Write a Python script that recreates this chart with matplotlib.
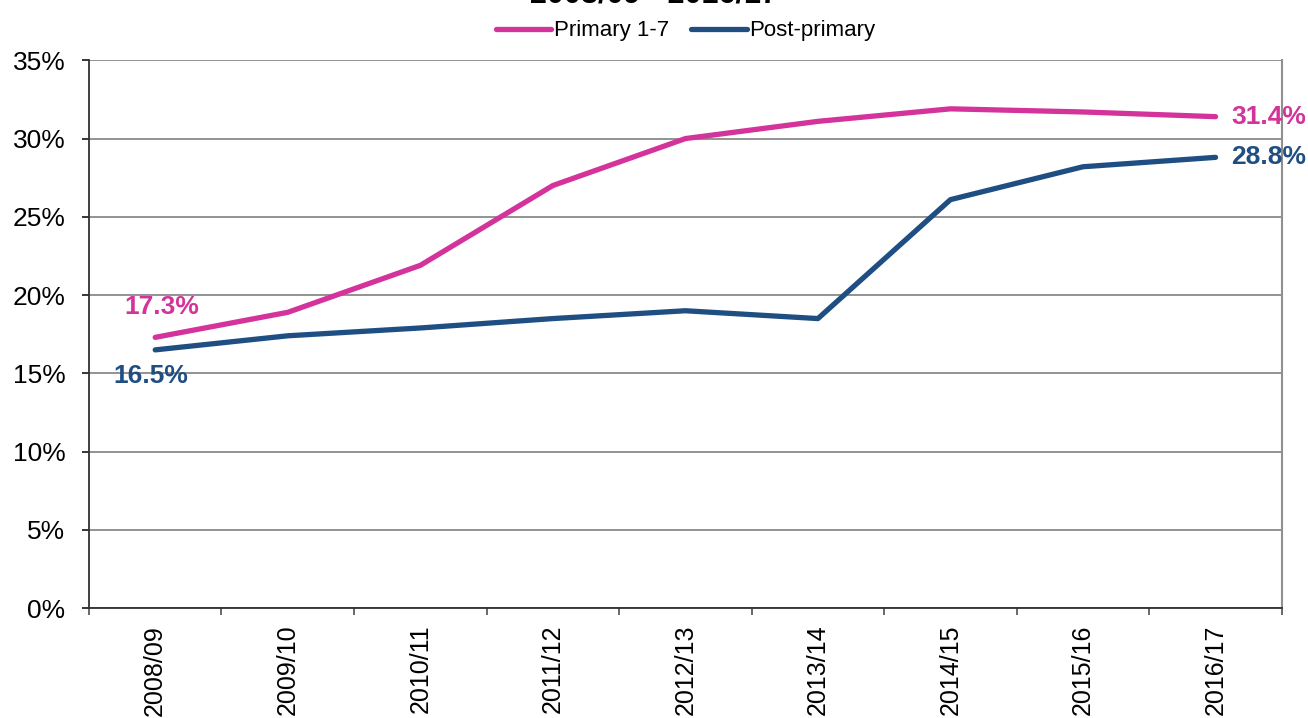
import matplotlib.pyplot as plt
from matplotlib.ticker import FuncFormatter, FixedLocator

plt.rcParams['font.family'] = ['Liberation Sans', 'DejaVu Sans']

years = ['2008/09', '2009/10', '2010/11', '2011/12', '2012/13',
         '2013/14', '2014/15', '2015/16', '2016/17']
primary = [17.3, 18.9, 21.9, 27.0, 30.0, 31.1, 31.9, 31.7, 31.4]
post_primary = [16.5, 17.4, 17.9, 18.5, 19.0, 18.5, 26.1, 28.2, 28.8]

pink = '#D3339A'
navy = '#1F4E82'

fig = plt.figure(figsize=(13.08, 7.18), dpi=100)
ax = fig.add_axes([0.068, 0.153, 0.912, 0.763])

x = list(range(len(years)))
ax.plot(x, primary, color=pink, lw=3.8, solid_capstyle='round', label='Primary 1-7', zorder=3)
ax.plot(x, post_primary, color=navy, lw=3.8, solid_capstyle='round', label='Post-primary', zorder=3)

ax.set_xlim(-0.5, len(years) - 0.5)
ax.set_ylim(0, 35)
ax.set_yticks(range(0, 36, 5))
ax.yaxis.set_major_formatter(FuncFormatter(lambda v, p: f'{v:.0f}%'))
ax.grid(axis='y', color='#808080', lw=1.2, zorder=0)

ax.set_xticks(x)
ax.set_xticklabels(years, rotation=90, fontsize=18)
ax.tick_params(axis='x', length=0, pad=12)
ax.xaxis.set_minor_locator(FixedLocator([i - 0.5 for i in range(len(years) + 1)]))
ax.tick_params(axis='x', which='minor', length=5, width=1.1, color='#404040')
ax.tick_params(axis='y', length=5, width=1.1, labelsize=19, pad=12)

ax.spines['top'].set_visible(False)
ax.spines['right'].set_color('#909090')
ax.spines['right'].set_linewidth(1.5)
ax.spines['left'].set_color('#303030')
ax.spines['bottom'].set_color('#303030')
ax.spines['left'].set_linewidth(1.3)
ax.spines['bottom'].set_linewidth(1.3)

# value labels at both ends
ax.annotate(f'{primary[0]}%', (x[0], primary[0]), xytext=(-22, 22), textcoords='offset points',
            color=pink, fontsize=19, fontweight='bold', va='center')
ax.annotate(f'{post_primary[0]}%', (x[0], post_primary[0]), xytext=(-30, -19), textcoords='offset points',
            color=navy, fontsize=19, fontweight='bold', va='center')
ax.annotate(f'{primary[-1]}%', (x[-1], primary[-1]), xytext=(11, 0), textcoords='offset points',
            color=pink, fontsize=19, fontweight='bold', va='center', annotation_clip=False)
ax.annotate(f'{post_primary[-1]}%', (x[-1], post_primary[-1]), xytext=(11, 0), textcoords='offset points',
            color=navy, fontsize=19, fontweight='bold', va='center', annotation_clip=False)

ax.legend(loc='lower center', bbox_to_anchor=(0.5, 1.0), ncol=2, frameon=False,
          fontsize=16, handlelength=2.5, handletextpad=0.1, columnspacing=1.0,
          borderaxespad=0.45)

fig.text(0.5, 0.9965, '2008/09 - 2016/17', ha='center', va='baseline', fontsize=22, fontweight='bold')

fig.savefig('out.png', dpi=100)
